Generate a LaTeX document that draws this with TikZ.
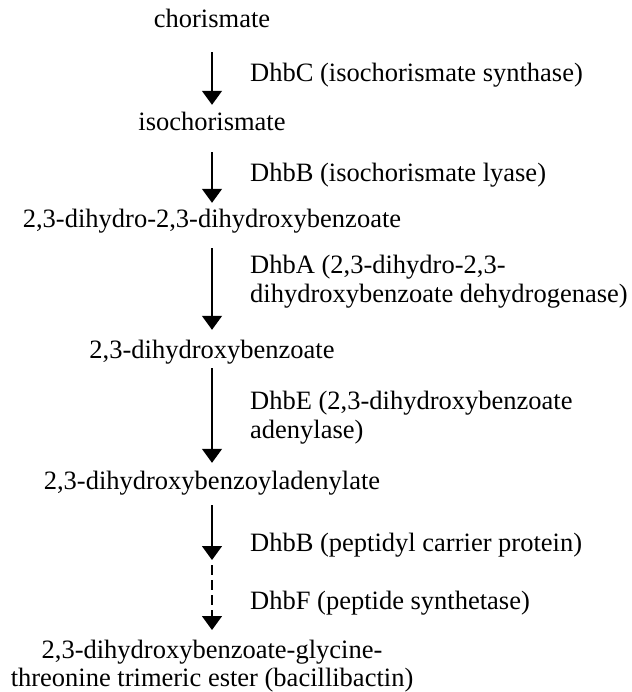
\documentclass[tikz,border=0pt]{standalone}
\usepackage{fontspec}
\setmainfont{Liberation Serif}
\usetikzlibrary{arrows.meta}
\begin{document}
\begin{tikzpicture}[x=1pt,y=-1pt,
compound/.style={inner sep=0pt, text height=18pt, text depth=6pt, align=center, font=\fontsize{26.5}{28}\selectfont},
enzyme/.style={anchor=west, inner sep=0pt, align=left, font=\fontsize{26.5}{29}\selectfont},
to/.style={-{Triangle[length=14pt,width=20pt]}, line width=1.4pt, shorten >=8pt, shorten <=12pt},
]
\useasboundingbox (0,0) rectangle (631,692);
%nodes
\node[compound](chor) at (212,22) {chorismate};
\node[compound](isochor) at (212,125) {isochorismate};
\node[compound](dihydro) at (212,222) {2,3-dihydro-2,3-dihydroxybenzoate};
\node[compound](dhb) at (212,352) {2,3-dihydroxybenzoate};
\node[compound](adenyl) at (212,483) {2,3-dihydroxybenzoyladenylate};
\node[compound, text height=, text depth=, anchor=north](bacil) at (212,640) {2,3-dihydroxybenzoate-glycine-\\threonine trimeric ester (bacillibactin)};
\coordinate (pcp) at (212,562);
\node[enzyme] at (250,75) {DhbC (isochorismate synthase)};
\node[enzyme] at (250,175) {DhbB (isochorismate lyase)};
\node[enzyme] at (250,282) {DhbA (2,3-dihydro-2,3-\\dihydroxybenzoate dehydrogenase)};
\node[enzyme] at (250,418) {DhbE (2,3-dihydroxybenzoate\\adenylase)};
\node[enzyme] at (250,545) {DhbB (peptidyl carrier protein)};
\node[enzyme] at (250,603) {DhbF (peptide synthetase)};
%connections
\draw[to, shorten <=18pt] (chor) -- (isochor);
\draw[to, shorten <=15pt, shorten >=7pt] (isochor) -- (dihydro);
\draw[to, shorten <=14pt, shorten >=10pt] (dihydro) -- (dhb);
\draw[to, shorten <=4pt] (dhb) -- (adenyl);
\draw[to, shorten <=10pt, shorten >=2pt] (adenyl) -- (pcp);
\draw[to, dash pattern=on 10pt off 5pt, shorten <=3pt, shorten >=10pt] (pcp) -- (bacil);
\end{tikzpicture}
\end{document}
